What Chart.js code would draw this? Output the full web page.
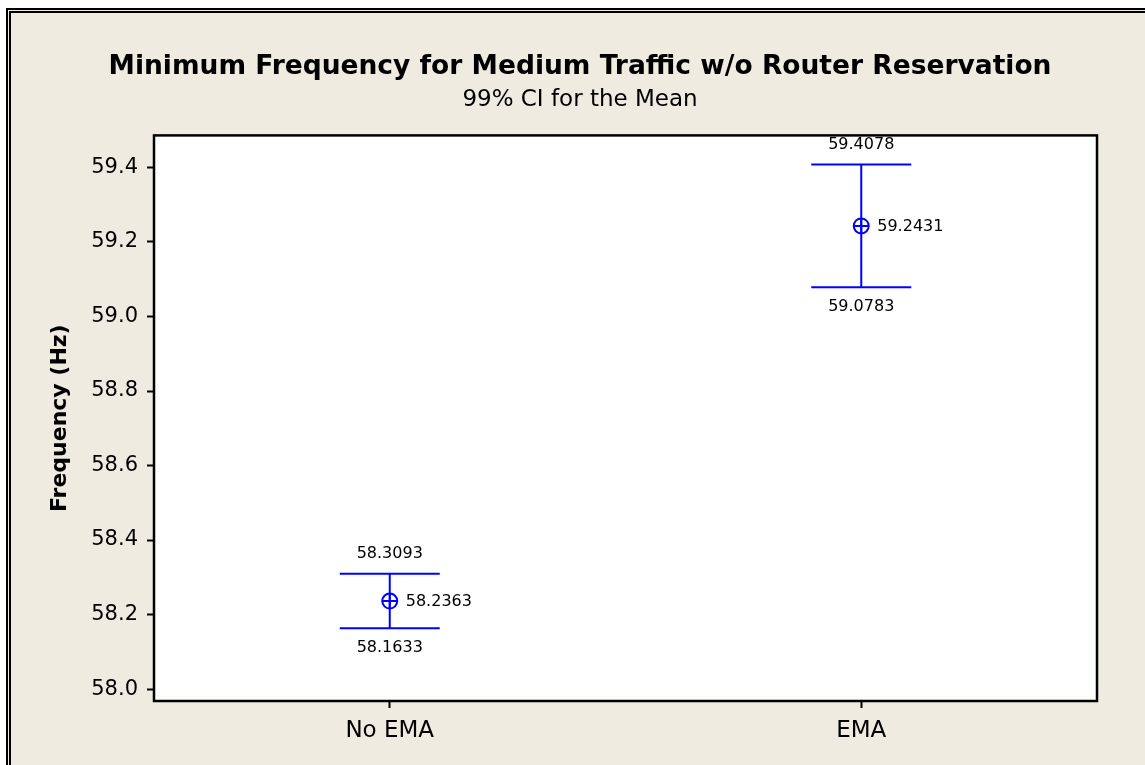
<!DOCTYPE html>
<html>
<head>
<meta charset="utf-8">
<script src="https://cdn.jsdelivr.net/npm/chart.js@4.4.1/dist/chart.umd.min.js"></script>
<style>
  html, body { margin: 0; padding: 0; background: #ffffff; overflow: hidden; width: 1145px; height: 765px; }
  #frame { position: absolute; left: 6px; top: 8px; width: 1300px; height: 900px; background: #EFEBE1;
           border-left: 5px double #000; border-top: 5px double #000; }
  #wrap { position: absolute; left: 0; top: 0; width: 1160px; height: 765px; }
</style>
</head>
<body>
<div id="frame"></div>
<div id="wrap"><canvas id="c" width="1160" height="765"></canvas></div>
<script>
const categories = ["No EMA", "EMA"];
const meanValues = [58.2363, 59.2431];
const lowerValues = [58.1633, 59.0783];
const upperValues = [58.3093, 59.4078];
const yTickValues = [58.0, 58.2, 58.4, 58.6, 58.8, 59.0, 59.2, 59.4];

const BLUE = '#0000FF';
const FONT = 'DejaVu Sans';

const plotBox = {
  id: 'plotBox',
  beforeDraw(chart) {
    const a = chart.chartArea, ctx = chart.ctx;
    ctx.save();
    ctx.fillStyle = '#ffffff';
    ctx.fillRect(a.left, a.top, a.right - a.left, a.bottom - a.top);
    ctx.restore();
  },
  afterDraw(chart) {
    const a = chart.chartArea, ctx = chart.ctx;
    ctx.save();
    ctx.strokeStyle = '#000';
    ctx.lineWidth = 2.5;
    ctx.strokeRect(a.left, a.top, a.right - a.left, a.bottom - a.top);
    ctx.restore();
  }
};

const ciLabels = {
  id: 'ciLabels',
  afterDatasetsDraw(chart) {
    const ctx = chart.ctx, xs = chart.scales.x, ys = chart.scales.y;
    ctx.save();
    ctx.fillStyle = '#000';
    ctx.font = '16px "' + FONT + '"';
    categories.forEach((c, i) => {
      const x = xs.getPixelForValue(i);
      ctx.textAlign = 'center';
      ctx.textBaseline = 'middle';
      ctx.fillText(upperValues[i].toFixed(4), x, ys.getPixelForValue(upperValues[i]) - 20);
      ctx.fillText(lowerValues[i].toFixed(4), x, ys.getPixelForValue(lowerValues[i]) + 20);
      ctx.textAlign = 'left';
      ctx.fillText(meanValues[i].toFixed(4), x + 16, ys.getPixelForValue(meanValues[i]) + 1);
    });
    ctx.restore();
  }
};

const lineSets = categories.map((c, i) => ({
  data: [{x: c, y: lowerValues[i]}, {x: c, y: upperValues[i]}],
  borderColor: BLUE, borderWidth: 2, pointRadius: 0, showLine: true, fill: false
}));

const capSet = {
  data: categories.flatMap((c, i) => [{x: c, y: lowerValues[i]}, {x: c, y: upperValues[i]}]),
  showLine: false, pointStyle: 'line', pointRadius: 50, pointBorderWidth: 2,
  pointBorderColor: BLUE, borderColor: BLUE
};

const circleSet = {
  data: categories.map((c, i) => ({x: c, y: meanValues[i]})),
  showLine: false, pointStyle: 'circle', pointRadius: 7.5, pointBorderWidth: 2,
  pointBorderColor: BLUE, pointBackgroundColor: 'rgba(0,0,0,0)', borderColor: BLUE
};

const crossSet = {
  data: categories.map((c, i) => ({x: c, y: meanValues[i]})),
  showLine: false, pointStyle: 'cross', pointRadius: 7.5, pointBorderWidth: 2,
  pointBorderColor: BLUE, borderColor: BLUE
};

new Chart(document.getElementById('c'), {
  type: 'line',
  data: { labels: categories, datasets: [...lineSets, capSet, circleSet, crossSet] },
  options: {
    responsive: false,
    animation: false,
    events: [],
    layout: { padding: { left: 0, right: 0, top: 0, bottom: 0 } },
    plugins: {
      legend: { display: false },
      tooltip: { enabled: false },
      title: {
        display: true,
        text: 'Minimum Frequency for Medium Traffic w/o Router Reservation',
        color: '#000',
        font: { family: FONT, size: 26.5, weight: 'bold', lineHeight: 1.2 },
        padding: { top: 51, bottom: 3 }
      },
      subtitle: {
        display: true,
        text: '99% CI for the Mean',
        color: '#000',
        font: { family: FONT, size: 23, lineHeight: 1.2 },
        padding: { top: 0, bottom: 22 }
      }
    },
    scales: {
      x: {
        type: 'category',
        offset: true,
        border: { display: false },
        grid: { display: true, drawOnChartArea: false, drawTicks: true, tickLength: 7, tickWidth: 2, tickColor: '#000', offset: false },
        ticks: { color: '#000', font: { family: FONT, size: 23 }, padding: 9, maxRotation: 0 },
        afterFit(scale) { scale.height = 64; }
      },
      y: {
        type: 'linear',
        min: 57.968,
        max: 59.486,
        border: { display: false },
        grid: { display: true, drawOnChartArea: false, drawTicks: true, tickLength: 7, tickWidth: 2, tickColor: '#000' },
        ticks: { color: '#000', font: { family: FONT, size: 21 }, padding: 9, callback: v => Number(v).toFixed(1) },
        afterBuildTicks(scale) { scale.ticks = yTickValues.map(v => ({ value: v })); },
        title: {
          display: true, text: 'Frequency (Hz)', color: '#000',
          font: { family: FONT, size: 22, weight: 'bold', lineHeight: 1.2 },
          padding: { top: 47, bottom: 0 }
        },
        afterFit(scale) { scale.width = 154; }
      },
      yRight: {
        type: 'linear',
        position: 'right',
        display: true,
        min: 57.968,
        max: 59.486,
        border: { display: false },
        grid: { display: false, drawOnChartArea: false, drawTicks: false },
        ticks: { display: false },
        afterFit(scale) { scale.width = 63; }
      }
    }
  },
  plugins: [plotBox, ciLabels]
});
</script>
</body>
</html>
